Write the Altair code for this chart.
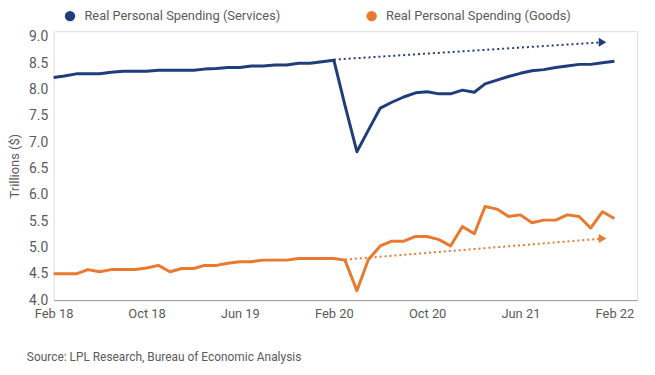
import altair as alt
import pandas as pd

# ---- data ----
months = pd.date_range("2018-02-01", "2022-02-01", freq="MS").strftime("%Y-%m-%d").tolist()

services = [8.23, 8.26, 8.30, 8.30, 8.30, 8.33, 8.35, 8.35, 8.35, 8.37,
            8.37, 8.37, 8.37, 8.39, 8.40, 8.42, 8.42, 8.45, 8.45, 8.47,
            8.47, 8.50, 8.50, 8.53, 8.56, 7.70, 6.82, 7.23, 7.65, 7.76,
            7.86, 7.94, 7.96, 7.92, 7.92, 7.99, 7.95, 8.11, 8.18, 8.25,
            8.31, 8.36, 8.38, 8.42, 8.45, 8.48, 8.48, 8.51, 8.54]

goods = [4.50, 4.50, 4.50, 4.58, 4.54, 4.58, 4.58, 4.58, 4.61, 4.66,
         4.54, 4.60, 4.60, 4.66, 4.66, 4.70, 4.73, 4.73, 4.76, 4.76,
         4.76, 4.79, 4.79, 4.79, 4.79, 4.76, 4.18, 4.77, 5.03, 5.12,
         5.12, 5.21, 5.21, 5.15, 5.03, 5.40, 5.26, 5.78, 5.73, 5.59,
         5.62, 5.47, 5.52, 5.52, 5.62, 5.59, 5.37, 5.68, 5.55]

series_names = ["Real Personal Spending (Services)", "Real Personal Spending (Goods)"]
series_colors = ["#1f3d7a", "#e8792f"]

# trend arrows (start date, end date, start value, end value)
arrow_series = series_names
arrow_start = ["2020-02-01", "2020-03-01"]
arrow_end = ["2022-01-01", "2022-01-01"]
arrow_v0 = [8.57, 4.77]
arrow_v1 = [8.90, 5.17]

x_tick_values = ["2018-02-01", "2018-10-01", "2019-06-01", "2020-02-01",
                 "2020-10-01", "2021-06-01", "2022-02-01"]
y_tick_values = [4.0, 4.5, 5.0, 5.5, 6.0, 6.5, 7.0, 7.5, 8.0, 8.5, 9.0]

source_text = "Source: LPL Research, Bureau of Economic Analysis"

# ---- tables ----
rows = []
for d, v in zip(months, services):
    rows.append({"date": d, "value": v, "series": series_names[0]})
for d, v in zip(months, goods):
    rows.append({"date": d, "value": v, "series": series_names[1]})
df = pd.DataFrame(rows)

arrow_rows = []
for s, a, b, v0, v1 in zip(arrow_series, arrow_start, arrow_end, arrow_v0, arrow_v1):
    arrow_rows.append({"date": a, "value": v0, "series": s, "end": 0})
    arrow_rows.append({"date": b, "value": v1, "series": s, "end": 1})
adf = pd.DataFrame(arrow_rows)

FONT = "Roboto"
GRAY = "#5a5a5a"

x_enc = alt.X(
    "date:T",
    scale=alt.Scale(domain=["2018-02-01", "2022-04-01"], nice=False),
    axis=alt.Axis(
        values=[pd.Timestamp(v).isoformat() for v in x_tick_values],
        labelExpr="timeFormat(datum.value, '%b %y')",
        title=None,
        grid=False,
        ticks=False,
        domain=True,
        domainColor="#9a9a9a",
        domainWidth=1,
        labelFontSize=13,
        labelColor=GRAY,
        labelFont=FONT,
        labelPadding=8,
        labelFlush=False,
    ),
)
y_enc = alt.Y(
    "value:Q",
    scale=alt.Scale(domain=[4.0, 9.11], nice=False, zero=False),
    axis=alt.Axis(
        values=y_tick_values,
        format=".1f",
        title="Trillions ($)",
        titleFont=FONT,
        titleFontSize=13,
        titleFontWeight="normal",
        titleColor=GRAY,
        titlePadding=7,
        grid=False,
        ticks=False,
        domain=False,
        labelFontSize=14,
        labelColor=GRAY,
        labelFont=FONT,
        labelPadding=6,
        labelOverlap=False,
        labelBound=False,
    ),
)
color_scale = alt.Scale(domain=series_names, range=series_colors)
color_enc = alt.Color(
    "series:N",
    scale=color_scale,
    legend=alt.Legend(
        orient="none",
        legendX=10,
        legendY=-22,
        direction="horizontal",
        title=None,
        symbolType="circle",
        symbolSize=110,
        symbolStrokeWidth=0,
        labelFontSize=13,
        labelFont=FONT,
        labelColor=GRAY,
        labelOffset=8,
        columnPadding=85,
        labelLimit=400,
    ),
)

lines = alt.Chart(df).mark_line(strokeWidth=3, strokeJoin="round").encode(
    x=x_enc, y=y_enc, color=color_enc, detail="series:N"
)

arrow_lines = alt.Chart(adf).mark_line(strokeWidth=2, strokeDash=[2, 3]).encode(
    x=x_enc, y=y_enc,
    color=alt.Color("series:N", scale=color_scale, legend=None),
    detail="series:N",
)

arrow_heads = alt.Chart(adf).transform_filter("datum.end == 1").mark_point(
    shape="triangle-right", filled=True, size=80, opacity=1
).encode(
    x=x_enc, y=y_enc,
    color=alt.Color("series:N", scale=color_scale, legend=None),
)

chart = alt.layer(lines, arrow_lines, arrow_heads).properties(
    width=588,
    height=271,
    autosize=alt.AutoSizeParams(type="none"),
    padding={"left": 46, "top": 22, "right": 10, "bottom": 66},
    title=alt.TitleParams(
        text=source_text,
        orient="bottom",
        anchor="start",
        frame="group",
        dx=-27,
        offset=31,
        fontSize=12,
        font=FONT,
        fontWeight="normal",
        color=GRAY,
    ),
).configure_view(fill="#f2f4f7", stroke=None).configure(background="white").configure_axisY(labelOverlap=False)

chart.save("out.html", embed_options={"renderer": "svg", "actions": False})
